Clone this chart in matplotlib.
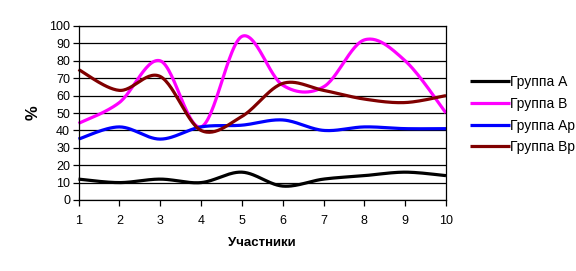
import numpy as np
import matplotlib
matplotlib.use("Agg")
import matplotlib.pyplot as plt

plt.rcParams['font.family'] = ['Liberation Sans', 'DejaVu Sans']

participants = [1, 2, 3, 4, 5, 6, 7, 8, 9, 10]
group_a = [12, 10, 12, 10, 16, 8, 12, 14, 16, 14]
group_b = [44, 56, 80, 42, 94, 66, 65, 92, 80, 50]
group_ap = [35, 42, 35, 42, 43, 46, 40, 42, 41, 41]
group_bp = [75, 63, 71, 40, 48, 67, 63, 58, 56, 60]

series = [
    ("Группа А", group_a, "#000000"),
    ("Группа В", group_b, "#FF00FF"),
    ("Группа Ар", group_ap, "#0000FF"),
    ("Группа Вр", group_bp, "#800000"),
]


def smooth(x, y, n=30):
    x = np.asarray(x, float)
    y = np.asarray(y, float)
    px = np.concatenate([[x[0]], x, [x[-1]]])
    py = np.concatenate([[y[0]], y, [y[-1]]])
    xs, ys = [], []
    t = np.linspace(0, 1, n)
    for i in range(1, len(px) - 2):
        p0 = np.array([px[i], py[i]])
        p3 = np.array([px[i + 1], py[i + 1]])
        p1 = p0 + (np.array([px[i + 1], py[i + 1]]) - np.array([px[i - 1], py[i - 1]])) / 6
        p2 = p3 - (np.array([px[i + 2], py[i + 2]]) - np.array([px[i], py[i]])) / 6
        b = ((1 - t) ** 3)[:, None] * p0 + (3 * (1 - t) ** 2 * t)[:, None] * p1 \
            + (3 * (1 - t) * t ** 2)[:, None] * p2 + (t ** 3)[:, None] * p3
        xs.extend(b[:, 0])
        ys.extend(b[:, 1])
    return xs, ys


fig = plt.figure(figsize=(5.76, 2.71), dpi=100)
ax = fig.add_axes([78.5 / 576, 1 - 200 / 271, (446 - 78.5) / 576, (200 - 26) / 271])

for label, vals, color in series:
    sx, sy = smooth(participants, vals)
    ax.plot(sx, sy, color=color, lw=2.3, label=label, solid_capstyle='butt', clip_on=False)

ax.set_xlim(1, 10)
ax.set_ylim(0, 100)
ax.set_xticks(participants)
ax.set_yticks(np.arange(0, 101, 10))
ax.yaxis.grid(True, color='black', lw=0.9)
ax.set_axisbelow(True)
for s in ax.spines.values():
    s.set_color('black')
    s.set_linewidth(0.9)
ax.tick_params(axis='both', direction='out', length=4, width=0.9, labelsize=9, colors='black')
ax.tick_params(axis='x', pad=7)
ax.tick_params(axis='y', pad=2)

ax.set_xlabel("Участники", fontsize=9.5, fontweight='bold', labelpad=7)
ax.set_ylabel("%", fontsize=12, fontweight='bold', labelpad=6)

leg = ax.legend(loc='center left', bbox_to_anchor=(1.065, 0.49), frameon=False,
                fontsize=10, handlelength=2.9, handletextpad=0.0, labelspacing=0.55,
                borderpad=0, borderaxespad=0)

fig.savefig("out.png", dpi=100)
